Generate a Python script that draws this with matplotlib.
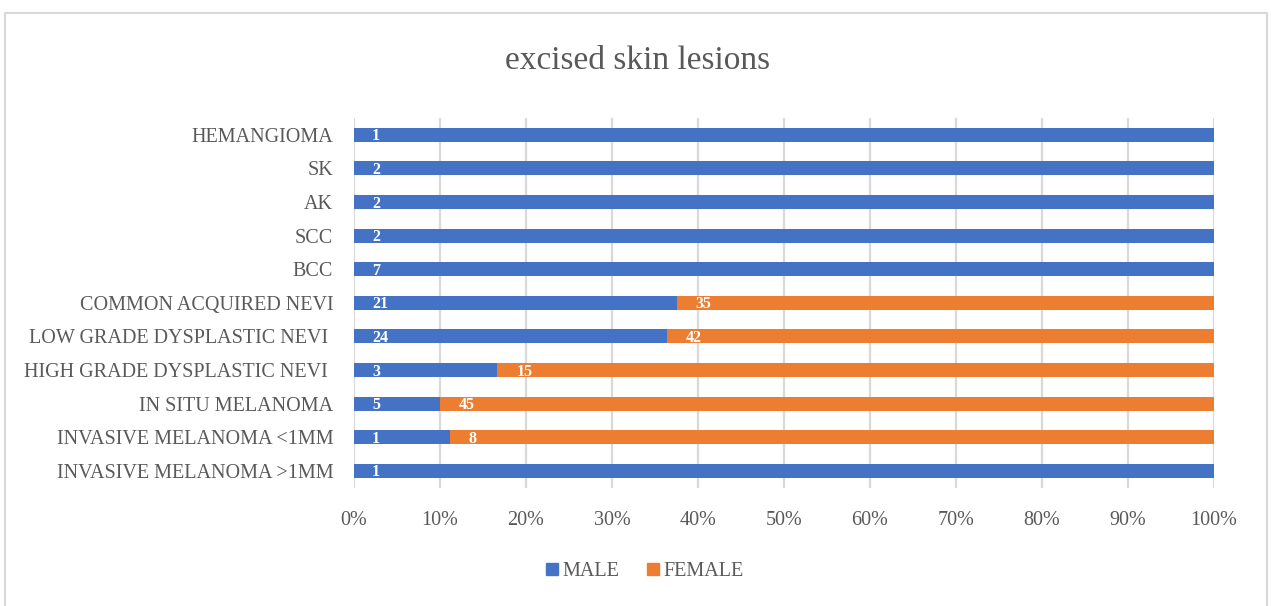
import matplotlib.pyplot as plt
from matplotlib.patches import Rectangle
from matplotlib.lines import Line2D
import numpy as np

categories = [
    "INVASIVE MELANOMA >1MM",
    "INVASIVE MELANOMA <1MM",
    "IN SITU MELANOMA",
    "HIGH GRADE DYSPLASTIC NEVI ",
    "LOW GRADE DYSPLASTIC NEVI ",
    "COMMON ACQUIRED NEVI",
    "BCC",
    "SCC",
    "AK",
    "SK",
    "HEMANGIOMA",
]
male = [1, 1, 5, 3, 24, 21, 7, 2, 2, 2, 1]
female = [0, 8, 45, 15, 42, 35, 0, 0, 0, 0, 0]
x_ticks = [0, 10, 20, 30, 40, 50, 60, 70, 80, 90, 100]
x_tick_labels = [f"{t}%" for t in x_ticks]

BLUE = "#4472C4"
ORANGE = "#ED7D31"
TEXT = "#595959"
GRID = "#D9D9D9"
FONT = "Liberation Serif"

plt.rcParams["font.family"] = [FONT, "DejaVu Serif"]

fig = plt.figure(figsize=(12.71, 6.06), dpi=100)
ax = fig.add_axes([354 / 1271, 1 - 487.6 / 606, 860 / 1271, 369.6 / 606])

male_arr = np.array(male, dtype=float)
female_arr = np.array(female, dtype=float)
total = male_arr + female_arr
male_pct = male_arr / total * 100
female_pct = female_arr / total * 100
y = np.arange(len(categories))

ax.barh(y, male_pct, height=0.42, color=BLUE, zorder=3)
ax.barh(y, female_pct, left=male_pct, height=0.42, color=ORANGE, zorder=3)

for i in range(len(categories)):
    ax.annotate(str(male[i]), (0, y[i]), xytext=(18, -1.5), textcoords="offset pixels",
                ha="left", va="center", color="white", fontsize=11.5,
                fontweight="bold", zorder=4)
    if female[i] > 0:
        ax.annotate(str(female[i]), (male_pct[i], y[i]), xytext=(19, -1.5),
                    textcoords="offset pixels", ha="left", va="center",
                    color="white", fontsize=11.5, fontweight="bold", zorder=4)

ax.set_xlim(0, 100)
ax.set_ylim(-0.5, len(categories) - 0.5)
ax.set_xticks(x_ticks)
ax.set_xticklabels(x_tick_labels)
ax.set_yticks(y)
ax.set_yticklabels(categories)
ax.tick_params(axis="both", length=0, colors=TEXT, labelsize=14.5)
ax.tick_params(axis="y", pad=15)
ax.tick_params(axis="x", pad=17)
ax.grid(axis="x", color=GRID, linewidth=1.6, zorder=0)
for s in ax.spines.values():
    s.set_visible(False)

fig.text(638 / 1271, 1 - 61 / 606, "excised skin lesions", ha="center", va="center",
         fontsize=24, color=TEXT)

handles = [
    Line2D([], [], marker="s", linestyle="none", markersize=8.5, color=BLUE),
    Line2D([], [], marker="s", linestyle="none", markersize=8.5, color=ORANGE),
]
fig.legend(handles, ["MALE", "FEMALE"], loc="center", bbox_to_anchor=(643 / 1271, 1 - 571 / 606),
           ncol=2, frameon=False, fontsize=14.5, labelcolor=TEXT, handletextpad=0.0,
           columnspacing=1.2, handlelength=1.0)

fig.patches.append(Rectangle((5 / 1271, -0.01), 1262 / 1271, 1 - 13 / 606 + 0.01,
                             transform=fig.transFigure, fill=False,
                             edgecolor=GRID, linewidth=1.5))

fig.savefig("out.png", dpi=100)
